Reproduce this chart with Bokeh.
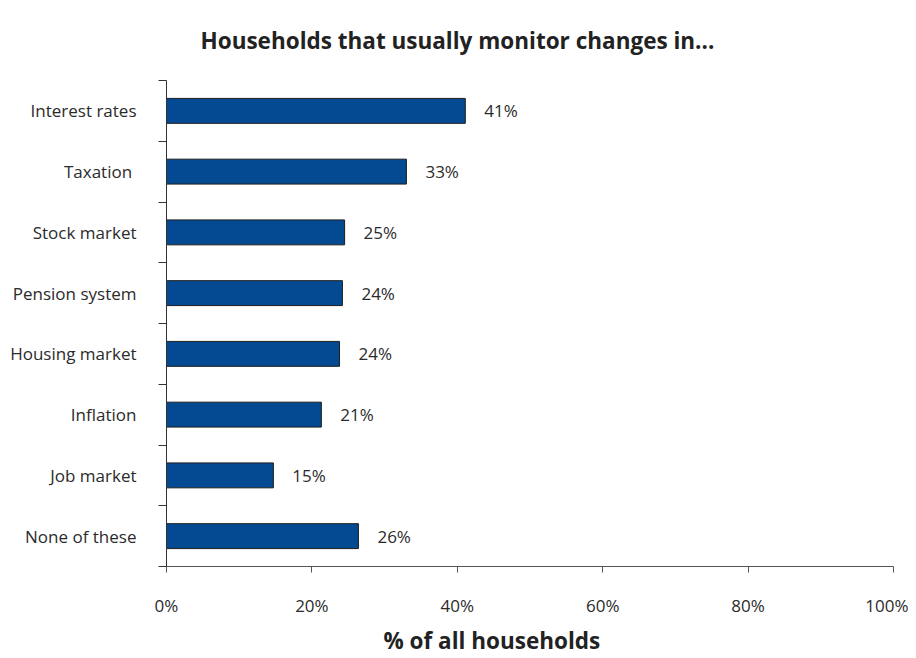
from bokeh.plotting import figure
from bokeh.models import Range1d, FixedTicker, ColumnDataSource, Title, LabelSet
from bokeh.core.properties import value
from bokeh.embed import file_html
from bokeh.resources import INLINE

categories = ["Interest rates", "Taxation ", "Stock market", "Pension system",
              "Housing market", "Inflation", "Job market", "None of these"]
values = [41.1, 33.0, 24.5, 24.2, 23.8, 21.3, 14.7, 26.4]
value_labels = ["41%", "33%", "25%", "24%", "24%", "21%", "15%", "26%"]
x_ticks = [0, 20, 40, 60, 80, 100]
x_tick_labels = ["0%", "20%", "40%", "60%", "80%", "100%"]
title_text = "Households that usually monitor changes in..."
x_title_text = "% of all households"

n = len(categories)
ypos = [n - 1 - i for i in range(n)]

FONT = "Open Sans"
TXT = "#2b2b2b"

p = figure(width=908, height=658, output_backend="svg", toolbar_location=None,
           x_range=Range1d(0, 100), y_range=Range1d(-0.5, n - 0.5),
           min_border_left=166, min_border_right=15, min_border_top=80, min_border_bottom=90)
p.outline_line_color = None
p.grid.grid_line_color = None
p.background_fill_color = "white"
p.border_fill_color = "white"

src = ColumnDataSource(dict(y=ypos, v=values, lab=value_labels))
p.hbar(y="y", right="v", left=0, height=0.41, source=src,
       fill_color="#034a92", line_color="#1e1e1e", line_width=1)

labels = LabelSet(x="v", y="y", text="lab", source=src, x_offset=19,
                  text_baseline="middle", text_align="left",
                  text_font=value(FONT), text_font_size=value("17px"), text_color=TXT)
p.add_layout(labels)

# x axis
xa = p.xaxis[0]
xa.ticker = FixedTicker(ticks=x_ticks)
xa.major_label_overrides = {t: l for t, l in zip(x_ticks, x_tick_labels)}
xa.major_tick_out = 6
xa.major_tick_in = 0
xa.minor_tick_out = 0
xa.minor_tick_in = 0
xa.axis_line_color = "#555555"
xa.major_tick_line_color = "#555555"
xa.major_label_text_font = FONT
xa.major_label_text_font_size = "17px"
xa.major_label_text_color = TXT
xa.major_label_standoff = 21

# y axis
ya = p.yaxis[0]
ya.ticker = FixedTicker(ticks=ypos, minor_ticks=[i - 0.5 for i in range(n + 1)])
ya.major_label_overrides = {y: c for y, c in zip(ypos, categories)}
ya.major_tick_out = 0
ya.major_tick_in = 0
ya.minor_tick_out = 8
ya.minor_tick_in = 0
ya.axis_line_color = "#333333"
ya.minor_tick_line_color = "#333333"
ya.major_label_text_font = FONT
ya.major_label_text_font_size = "17px"
ya.major_label_text_color = TXT
ya.major_label_standoff = 22

t = Title(text=title_text, align="left", offset=34,
          text_font=FONT, text_font_size="22.5px", text_font_style="bold",
          text_color="#222222", standoff=46, vertical_align="top")
p.add_layout(t, "above")

xl = Title(text=x_title_text, align="left", offset=217,
           text_font=FONT, text_font_size="22.5px", text_font_style="bold",
           text_color="#222222", standoff=6, vertical_align="bottom")
p.add_layout(xl, "below")

open("out.html", "w").write(file_html(p, INLINE))
